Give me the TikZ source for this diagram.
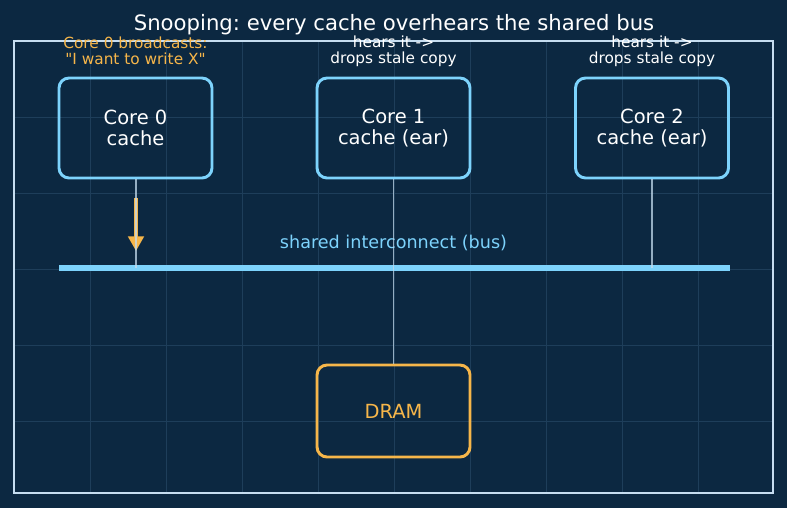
\documentclass[tikz,border=0pt]{standalone}
\usepackage{fontspec}
\setmainfont{DejaVu Sans}[Ligatures=TeXOff]
\usetikzlibrary{arrows.meta}
\frenchspacing
\definecolor{bg}{HTML}{0C2841}
\definecolor{gridc}{HTML}{1E3E5A}
\definecolor{framec}{HTML}{C6DDF0}
\definecolor{sky}{HTML}{7DD3FC}
\definecolor{amber}{HTML}{F6B64A}
\definecolor{wire}{HTML}{C4DCEE}
\tikzset{
  x=0.75pt, y=-0.75pt,
  cachebox/.style={draw=sky, line width=2.2pt, rounded corners=7.5pt, minimum width=153*0.75pt, minimum height=100*0.75pt, text=white, font=\fontsize{14.6}{16}\selectfont, align=center, inner sep=0pt},
  drambox/.style={cachebox, draw=amber, text=amber, minimum height=92*0.75pt},
  toplabel/.style={text=white, font=\fontsize{11.5}{12.3}\selectfont, align=center, inner sep=0pt},
  wireline/.style={draw=wire, draw opacity=0.75, line width=1pt},
}
\begin{document}
\begin{tikzpicture}
\fill[bg] (0,0) rectangle (787,508);
\useasboundingbox (0,0) rectangle (787,508);
% grid
\foreach \gx in {90,166,242,318,394,470,546,622,698} \draw[gridc, line width=0.6pt] (\gx,41) -- (\gx,493);
\foreach \gy in {117,193,269,345,421} \draw[gridc, line width=0.6pt] (14,\gy) -- (773,\gy);
% frame
\draw[framec, line width=1.4pt] (14,41) rectangle (773,493);
% title
\node[text=white, font=\fontsize{15.9}{17}\selectfont, inner sep=0pt] (title) at (394,24.5) {Snooping: every cache overhears the shared bus};
% boxes
\node[cachebox] (c0) at (135.5,128) {Core 0\\cache};
\node[cachebox] (c1) at (393.5,128) {Core 1\\cache (ear)};
\node[cachebox] (c2) at (652,128) {Core 2\\cache (ear)};
\node[drambox] (dram) at (393.5,411) {DRAM};
% labels
\node[toplabel, text=amber] (l0) at (135.5,51) {Core 0 broadcasts:\\"I want to write X"};
\node[toplabel] (l1) at (393.5,51) {hears it ->\\drops stale copy};
\node[toplabel] (l2) at (652,51) {hears it ->\\drops stale copy};
% bus
\coordinate (busL) at (59,268);
\coordinate (busR) at (730,268);
\coordinate (tap0) at (136,268);
\coordinate (tap2) at (652,268);
\node[text=sky, font=\fontsize{13.2}{14}\selectfont, inner sep=0pt] (buslabel) at (393.5,243) {shared interconnect (bus)};
\draw[sky, line width=4.2pt] (busL) -- (busR);
% arrow
\coordinate (a0) at (136,198);
\coordinate (a1) at (136,251);
\draw[amber, line width=3pt, -{Triangle[length=11pt, width=11.5pt]}] (a0) -- (a1);
% wires
\draw[wireline] (c0.south -| tap0) -- (tap0);
\draw[wireline] (c2.south -| tap2) -- (tap2);
\draw[wireline] (c1.south) -- (dram.north);
\end{tikzpicture}
\end{document}
